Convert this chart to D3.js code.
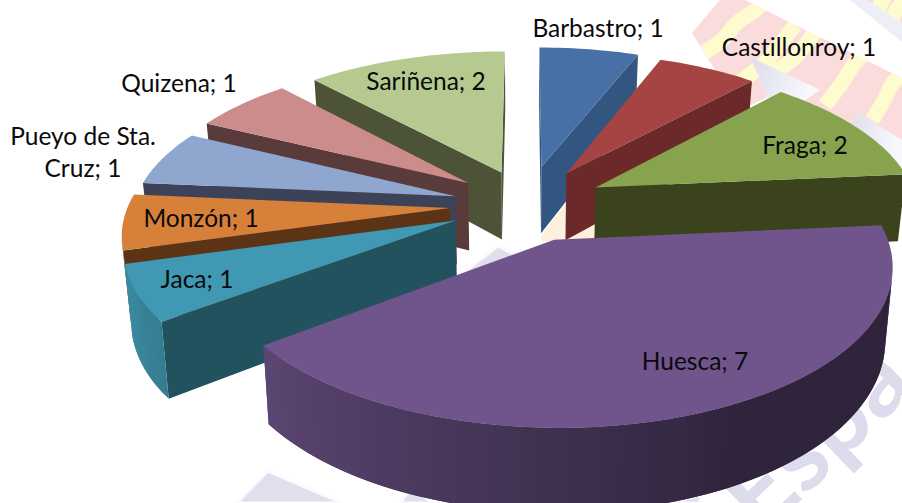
<!DOCTYPE html>
<html><head><meta charset="utf-8">
<script src="https://cdnjs.cloudflare.com/ajax/libs/d3/7.9.0/d3.min.js"></script>
<style>html,body{margin:0;padding:0;background:#fff;overflow:hidden}svg{display:block}</style>
</head><body><svg id="c" width="902" height="503"></svg>
<script>
// ---- data ----
const categories = ["Barbastro","Castillonroy","Fraga","Huesca","Jaca","Monzón","Pueyo de Sta. Cruz","Quizena","Sariñena"];
const values = [1,1,2,7,1,1,1,1,2];
// ---- per-slice styling / layout ----
const explosion = [0.28,0.258,0.256,0.25,0.23,0.226,0.22,0.23,0.235];
const nudgeX = [2.5,1,0,1,0,0,0,3,5];
const nudgeY = [1,0,-1,-1,0,0,0,-2,-1];
const topColors = ["#4670a6","#a54442","#87a34d","#70558c","#4198b2","#d6803a","#8fa7cf","#cc8c8c","#b6ca90"];
const wallColors = ["#32567f","#6b2929","#3a431c","#2f2439","#23525f","#5c3415","#3c4359","#5a3b3b","#4d5337"];
const drawOrder = [0,1,2,8,7,6,5,4,3];
const labelX = [598,799,805,695,197,201,83,179,426];
const labelY = [29,48,146,362,280,219,137,84,82];
const labelLines = {"Pueyo de Sta. Cruz":["Pueyo de Sta.","Cruz"]};
// ---- projection ----
const cx=523, cy=205, A=322, B=148, K=0.15, depth=69, squeeze=0.98;
const deg=180/Math.PI;
const project=(X,Y)=>{const w=1+K*Y;return {x:cx+A*X/w,y:cy-B*Y/w,w};};
const lower=p=>({x:cx+(p.x-cx)*squeeze,y:p.y+depth/p.w});
const rimShade=d3.scaleLinear().domain([85,150,200,233,254.4,254.6,360]).range([.42,.42,.66,.82,.92,.43,.43]).clamp(true);

const svg=d3.select("#c");
const line=d3.line().x(p=>p.x).y(p=>p.y);
const poly=pts=>line(pts)+"Z";

// ---- background watermark ----
const bg=svg.append("g");
const defs=svg.append("defs");
const lg=defs.append("linearGradient").attr("id","wedge").attr("x1",0).attr("y1",0).attr("x2",1).attr("y2",.3);
lg.append("stop").attr("offset",0).attr("stop-color","#dcdcec");
lg.append("stop").attr("offset",1).attr("stop-color","#f8f8fc");
const P=a=>a.map(([x,y])=>({x,y}));
const flag=[[692,33],[720,0],[745,0],[902,78],[902,140],[857,113],[845,180],[790,110],[820,90],[750,57],[768,97],[740,110]];
defs.append("clipPath").attr("id","fc").append("path").attr("d",poly(P(flag))+poly(P([[867,0],[902,0],[902,23]])));
const fg=bg.append("g").attr("clip-path","url(#fc)");
fg.append("rect").attr("x",680).attr("y",0).attr("width",222).attr("height",200).attr("fill","#fbdcdc");
const wavy=d3.line().x(p=>p[0]).y(p=>p[1]).curve(d3.curveBasis);
[[[700,55],[725,40],[735,22],[755,12],[765,0]],
 [[735,85],[765,65],[785,38],[795,25]],
 [[768,75],[795,60],[805,45],[815,32]],
 [[825,105],[845,80],[855,60],[868,52]],
 [[872,120],[885,100],[890,85],[905,70]],
 [[860,25],[875,18],[880,5],[885,-5]],
 [[890,25],[895,10],[905,0]]].forEach(s=>{
  fg.append("path").attr("d",wavy(s)).attr("fill","none").attr("stroke","#fefbcf").attr("stroke-width",15);
});
bg.append("path").attr("d",poly(P([[750,57],[820,90],[795,105],[768,97]]))).attr("fill","url(#wedge)");
bg.append("path").attr("d",poly(P([[857,113],[902,140],[902,170],[845,150]]))).attr("fill","url(#wedge)");
bg.append("path").attr("d",poly(P([[850,0],[867,0],[902,23],[902,42]]))).attr("fill","#eeeef6");
// lavender diamonds
const lav="#dfdfee";
[[[268,471],[237,503],[342,503]],[[498,246],[463,273],[470,300],[530,262]],[[412,487],[400,503],[432,503]],[[672,503],[700,495],[700,503]]].forEach(p=>{
  bg.append("path").attr("d",poly(P(p))).attr("fill",lav).attr("stroke","#fbfbfd").attr("stroke-width",3);
});
// peach patch between the walls
bg.append("path").attr("d",poly(P([[541,236],[600,160],[600,241],[541,241]]))).attr("fill","#fdeedd");
// text watermark
bg.append("text").attr("transform","translate(762,538) rotate(-44)")
  .attr("font-family","Lato").attr("font-weight",700).attr("font-size",104).attr("fill","#dcdcec").text("Espa");

// ---- pie ----
const arcs=d3.pie().sort(null).value(d=>d)(values);
const root=svg.append("g");
const area=q=>-d3.polygonArea(q.map(p=>[p.x,p.y]));
drawOrder.forEach(i=>{
  const d=arcs[i], e=explosion[i], mid=(d.startAngle+d.endAngle)/2;
  const place=(X,Y)=>{const p=project(X,Y);return {x:p.x+nudgeX[i],y:p.y+nudgeY[i],w:p.w};};
  const apex=place(e*Math.sin(mid),e*Math.cos(mid));
  const g=root.append("g");
  const n=Math.max(2,Math.ceil((d.endAngle-d.startAngle)*deg/1.5));
  const angles=d3.range(n+1).map(k=>d.startAngle+(d.endAngle-d.startAngle)*k/n);
  const outer=angles.map(a=>place(Math.sin(a)+e*Math.sin(mid),Math.cos(a)+e*Math.cos(mid)));
  const first=outer[0], last=outer[n];
  // radial faces
  const sf=[apex,first,lower(first),lower(apex)];
  if(area(sf)<0) g.append("path").attr("d",poly(sf)).attr("fill",wallColors[i]);
  const ef=[apex,last,lower(last),lower(apex)];
  if(area(ef)>0) g.append("path").attr("d",poly(ef)).attr("fill",wallColors[i]);
  // rim: each band overlaps the next one so that no seams show
  for(let k=0;k<n;k++){
    const q=[outer[k],outer[k+1],lower(outer[k+1]),lower(outer[k])];
    if(area(q)<0){
      const next=Math.min(k+2,n);
      const c=d3.rgb(topColors[i]), f=rimShade((angles[k]+angles[k+1])/2*deg);
      g.append("path").attr("d",poly([outer[k],outer[next],lower(outer[next]),lower(outer[k])]))
        .attr("fill",d3.rgb(c.r*f,c.g*f,c.b*f).formatHex());
    }
  }
  // top
  g.append("path").attr("d",poly([apex,...outer])).attr("fill",topColors[i]);
});
// ---- labels ----
const lg2=svg.append("g").attr("font-family","Lato").attr("font-size",24.5).attr("fill","#0a0a0a").attr("text-anchor","middle").style("font-variant-ligatures","none");
categories.forEach((name,i)=>{
  const lines=(labelLines[name]||[name]).slice();
  lines[lines.length-1]+="; "+values[i];
  const t=lg2.append("text").attr("x",labelX[i]).attr("y",labelY[i]+8);
  lines.forEach((l,j)=>t.append("tspan").attr("x",labelX[i]).attr("dy",j?32:0).text(l));
});
</script></body></html>
